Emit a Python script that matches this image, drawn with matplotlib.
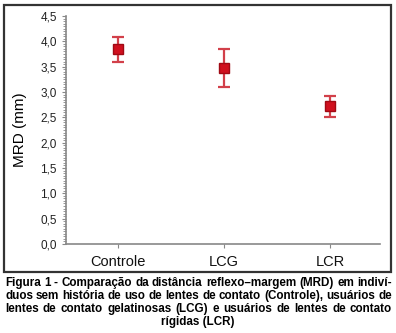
import matplotlib
matplotlib.use("Agg")
import matplotlib.pyplot as plt
from matplotlib.patches import Rectangle
from matplotlib.ticker import MultipleLocator, FuncFormatter

# data
groups = ["Controle", "LCG", "LCR"]
mrd_mean = [3.84, 3.47, 2.72]
mrd_err = [0.24, 0.37, 0.21]

caption_lines = [
    "Figura 1 - Comparação da distância reflexo–margem (MRD) em indiví-",
    "duos sem história de uso de lentes de contato (Controle), usuários de",
    "lentes de contato gelatinosas (LCG) e usuários de lentes de contato",
    "rígidas (LCR)",
]

W, H = 396, 333
fig = plt.figure(figsize=(W / 100, H / 100), dpi=100)
plt.rcParams["font.family"] = ["Liberation Sans", "DejaVu Sans"]

ax = fig.add_axes([66 / W, 1 - 244 / H, (380 - 66) / W, (244 - 16) / H])
x = list(range(len(groups)))
ax.errorbar(x, mrd_mean, yerr=mrd_err, fmt="s", color="#d0101e", ecolor="#d2404a",
            markersize=6.5, markeredgecolor="#a00a14", elinewidth=1.6, capsize=4, capthick=1.6)

ax.set_xlim(-0.49, 2.47)
ax.set_ylim(0, 4.5)
ax.set_xticks(x)
ax.set_xticklabels(groups, fontsize=10.5)
ax.yaxis.set_major_locator(MultipleLocator(0.5))
ax.yaxis.set_minor_locator(MultipleLocator(0.05))
ax.yaxis.set_major_formatter(FuncFormatter(lambda v, p: f"{v:.1f}".replace(".", ",")))
ax.tick_params(axis="y", labelsize=8.5, colors="#888888", labelcolor="#222222", length=3, width=0.8)
ax.tick_params(axis="y", which="minor", length=2, width=0.6, colors="#888888")
ax.tick_params(axis="x", length=3, width=0.8, colors="#888888", labelcolor="#111111", pad=5)
for s in ["top", "right"]:
    ax.spines[s].set_visible(False)
for s in ["left", "bottom"]:
    ax.spines[s].set_color("#888888")
    ax.spines[s].set_linewidth(1.2)
ax.set_ylabel("MRD (mm)", fontsize=11, labelpad=10)

# frame around the chart
fig.patches.append(Rectangle((4 / W, 1 - 272 / H), 387 / W, 267 / H, transform=fig.transFigure,
                             fill=False, edgecolor="#333333", linewidth=1.6))

# justified caption
fig.canvas.draw()
r = fig.canvas.get_renderer()
x0, x1 = 5, 392
fs = 8.4
ys = [283, 296, 309, 322]
for i, line in enumerate(caption_lines):
    yy = 1 - ys[i] / H
    if i == len(caption_lines) - 1:
        fig.text(W / 2 / W, yy, line, ha="center", va="center", fontsize=fs, fontweight="bold")
        continue
    words = line.split(" ")
    widths = []
    for w in words:
        t = fig.text(0, 0, w, fontsize=fs, fontweight="bold")
        widths.append(t.get_window_extent(r).width)
        t.remove()
    gap = (x1 - x0 - sum(widths)) / (len(words) - 1)
    pos = x0
    for w, wd in zip(words, widths):
        fig.text(pos / W, yy, w, ha="left", va="center", fontsize=fs, fontweight="bold")
        pos += wd + gap

fig.savefig("out.png", dpi=100)
